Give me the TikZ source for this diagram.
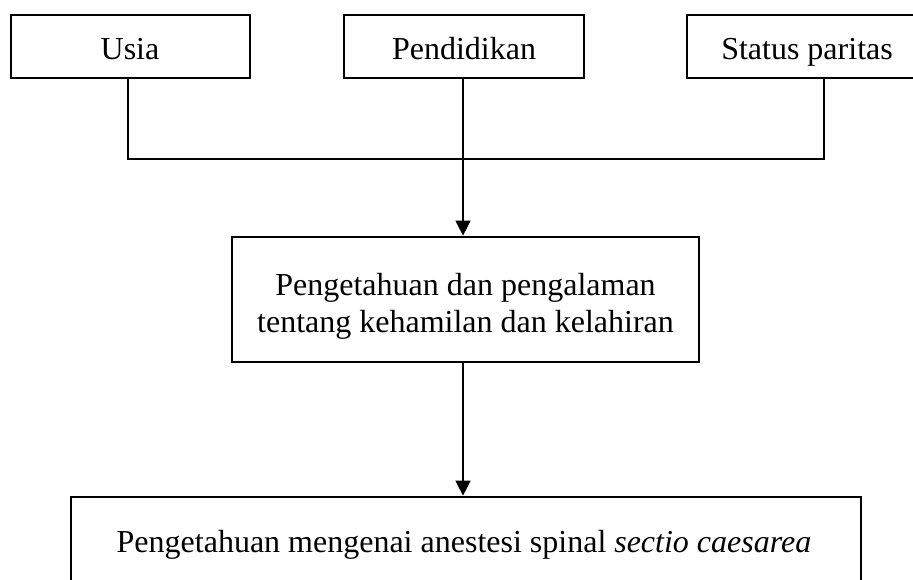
\documentclass[tikz,border=0pt]{standalone}
\usepackage{fontspec}
\setmainfont{Liberation Serif}
\usetikzlibrary{arrows.meta}
\begin{document}
\begin{tikzpicture}[x=0.5pt,y=-0.5pt,
  box/.style={draw,line width=1.35pt,inner sep=0pt,anchor=center},
  lbl/.style={inner sep=0pt,anchor=base,font=\fontsize{16}{18.5}\selectfont},
  conn/.style={line width=0.65pt},
  arr/.style={conn,-{Triangle[length=7.5pt,width=7.5pt]}}]
\clip (0,0) rectangle (913,579);
\useasboundingbox (0,0) rectangle (913,579);
% boxes
\node[box,minimum width=119.5pt,minimum height=31.5pt] (usia) at (130.5,46.5) {};
\node[box,minimum width=120pt,minimum height=31.5pt] (pend) at (464,46.5) {};
\node[box,minimum width=120pt,minimum height=31.5pt] (stat) at (807,46.5) {};
\node[box,minimum width=233.5pt,minimum height=62.5pt] (mid) at (465.5,299.5) {};
\node[box,minimum width=395pt,minimum height=61.5pt] (bot) at (466,558.5) {};
% texts
\node[lbl] (tusia) at (130,59) {Usia};
\node[lbl] (tpend) at (464,59) {Pendidikan};
\node[lbl] (tstat) at (807,59) {Status paritas};
\node[lbl] (tmid1) at (465.5,295) {Pengetahuan dan pengalaman};
\node[lbl] (tmid2) at (465.5,332) {tentang kehamilan dan kelahiran};
\node[lbl] (tbot) at (464,552) {Pengetahuan mengenai anestesi spinal \textit{sectio caesarea}};
% connectors
\coordinate (j1) at (128,159);
\coordinate (j3) at (824,159);
\coordinate (ax) at (463,0);
\draw[conn] (j1 |- usia.south) -- (j1) -- (j3) -- (j3 |- stat.south);
\draw[arr] (ax |- pend.south) -- (ax |- mid.north);
\draw[arr] (ax |- mid.south) -- (ax |- bot.north);
\end{tikzpicture}
\end{document}
